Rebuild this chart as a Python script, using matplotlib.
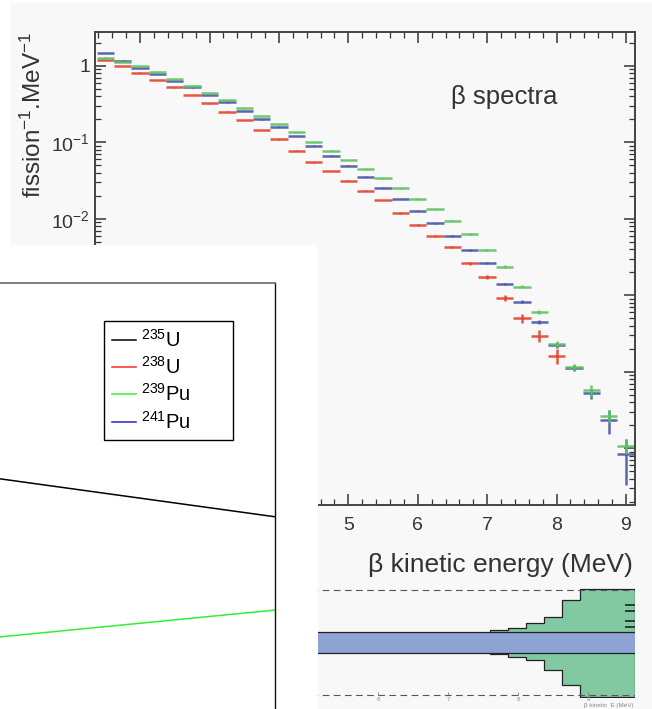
import matplotlib
import matplotlib.pyplot as plt
import numpy as np
from matplotlib.lines import Line2D
from matplotlib.patches import Rectangle
from matplotlib.ticker import FuncFormatter, LogLocator, MultipleLocator, NullFormatter

matplotlib.use("Agg")

plt.rcParams["font.family"] = ["Liberation Sans", "DejaVu Sans"]
plt.rcParams["mathtext.fontset"] = "custom"
plt.rcParams["mathtext.rm"] = "Liberation Sans"
plt.rcParams["mathtext.it"] = "Liberation Sans:italic"

# beta spectra, 250 keV bins (per fission per MeV)
energy = [1.5, 1.75, 2.0, 2.25, 2.5, 2.75, 3.0, 3.25, 3.5, 3.75, 4.0, 4.25, 4.5, 4.75, 5.0, 5.25,
          5.5, 5.75, 6.0, 6.25, 6.5, 6.75, 7.0, 7.25, 7.5, 7.75, 8.0, 8.25, 8.5, 8.75, 9.0]
red_vals = [1.20, 1.00, 0.817, 0.656, 0.527, 0.418, 0.325, 0.253, 0.197, 0.146, 0.110, 0.0781,
            0.0550, 0.0424, 0.0317, 0.0234, 0.0176, 0.0119, 0.00835, 0.00600, 0.00431, 0.00264,
            0.00173, 0.000919, 0.000504, 0.000296, 0.000163]
blue_vals = [1.47, 1.17, 0.94, 0.786, 0.637, 0.524, 0.418, 0.333, 0.258, 0.200, 0.161, 0.122,
             0.0908, 0.0672, 0.0497, 0.0357, 0.0257, 0.0182, 0.0128, 0.00879, 0.00600, 0.00394,
             0.00264, 0.00141, 0.000830, 0.000446, 0.000222, 0.000113, 5.27e-5, 2.36e-5, 8.4e-6]
green_vals = [1.29, 1.13, 1.00, 0.842, 0.676, 0.553, 0.448, 0.360, 0.280, 0.222, 0.175, 0.136,
              0.102, 0.0781, 0.0590, 0.0446, 0.0340, 0.0252, 0.0182, 0.0134, 0.00950, 0.00631,
              0.00394, 0.00238, 0.00130, 0.000614, 0.000232, 0.000116, 5.73e-5, 2.66e-5, 1.08e-5]
red_err = [0.01, 0.01, 0.01, 0.01, 0.01, 0.01, 0.01, 0.01, 0.01, 0.01, 0.01, 0.01, 0.01, 0.01,
           0.01, 0.01, 0.01, 0.02, 0.02, 0.02, 0.03, 0.04, 0.06, 0.09, 0.14, 0.18, 0.22]
blue_err = [0.01, 0.01, 0.01, 0.01, 0.01, 0.01, 0.01, 0.01, 0.01, 0.01, 0.01, 0.01, 0.01, 0.01,
            0.01, 0.01, 0.01, 0.01, 0.02, 0.02, 0.02, 0.03, 0.03, 0.04, 0.05, 0.06, 0.08, 0.10,
            0.15, 0.35, 0.60]
green_err = [0.01, 0.01, 0.01, 0.01, 0.01, 0.01, 0.01, 0.01, 0.01, 0.01, 0.01, 0.01, 0.01, 0.01,
             0.01, 0.01, 0.01, 0.01, 0.02, 0.02, 0.02, 0.03, 0.03, 0.04, 0.05, 0.06, 0.08, 0.10,
             0.18, 0.20, 0.22]

# overlaid panel: isotope lines
iso_labels = ["$^{235}$U", "$^{238}$U", "$^{239}$Pu", "$^{241}$Pu"]
iso_colors = ["black", "#ff2a2a", "#33ee33", "#2222cc"]
line_x = [1.5, 8.0]
u235_y = [0.586, 0.494]
pu239_y = [0.227, 0.292]

# uncertainty inset (percent)
band_half = 2.0
env_edges = [7.6, 7.86, 8.12, 8.37, 8.63, 8.89, 9.67]
env_upper = [2.4, 2.7, 3.6, 4.9, 8.0, 10.1]
env_lower = [2.1, 2.8, 3.3, 5.2, 8.0, 10.3]
mark_y = [7.1, 6.0, 4.1, 3.0]
inset_ticks = [6, 7, 8, 9]

W, H = 652, 709


def fig_rect(x0, y0, x1, y1):
    # pixel box (top-left origin) -> figure fraction
    return [x0 / W, 1 - y1 / H, (x1 - x0) / W, (y1 - y0) / H]


def log_label(value, pos):
    exp = int(round(np.log10(value)))
    if exp == 0:
        return "1"
    return r"$10^{%d}$" % exp


fig = plt.figure(figsize=(W / 100, H / 100), dpi=100)
fig.patch.set_facecolor("white")
fig.add_artist(Rectangle((11 / W, 0), 1, 1 - 3 / H, transform=fig.transFigure,
                         facecolor="#f8f8f8", edgecolor="none", zorder=-10))

# main beta spectra plot
ax = fig.add_axes(fig_rect(95, 32, 635, 505))
ax.set_facecolor("none")
series = [(red_vals, red_err, "#e2452f"), (blue_vals, blue_err, "#4a55a8"), (green_vals, green_err, "#5fc262")]
for vals, errs, color in series:
    y = np.array(vals)
    ax.errorbar(energy[:len(y)], y, xerr=0.125, yerr=y * np.array(errs), fmt="none",
                ecolor=color, elinewidth=1.8, capsize=0, alpha=0.9)
ax.set_yscale("log")
ax.set_xlim(1.35, 9.13)
ax.set_ylim(10 ** -5.74, 10 ** 0.444)
ax.xaxis.set_major_locator(MultipleLocator(1))
ax.xaxis.set_minor_locator(MultipleLocator(0.2))
ax.yaxis.set_major_locator(LogLocator(base=10, numticks=20))
ax.yaxis.set_minor_locator(LogLocator(base=10, subs=np.arange(2, 10), numticks=20))
ax.yaxis.set_major_formatter(FuncFormatter(log_label))
ax.yaxis.set_minor_formatter(NullFormatter())
ax.tick_params(which="both", direction="in", top=True, right=True, colors="#333333", labelsize=14)
ax.tick_params(which="major", length=8, width=1.1)
ax.tick_params(which="minor", length=4, width=0.9)
ax.tick_params(axis="x", pad=9)
for spine in ax.spines.values():
    spine.set_color("#444444")
    spine.set_linewidth(1.4)
ax.text(0.757, 0.862, "β spectra", transform=ax.transAxes, ha="center", va="center",
        fontsize=18.5, color="#333333")
fig.text(33 / W, 1 - 32 / H, "fission$^{-1}$.MeV$^{-1}$", rotation=90, ha="center", va="top",
         fontsize=17.5, color="#333333")
fig.text(633 / W, 1 - 565 / H, "β kinetic energy (MeV)", ha="right", va="center",
         fontsize=19, color="#333333")

# small uncertainty inset at the bottom right
axr = fig.add_axes(fig_rect(300, 587, 635, 698))
axr.set_xlim(4.886, 9.671)
axr.set_ylim(-10.5, 10.5)
axr.axis("off")
axr.fill_between([4.886, 9.671], -band_half, band_half, color="#8da3d4", lw=0)
axr.stairs(env_upper, env_edges, baseline=band_half, fill=True, facecolor="#82c9a2",
           edgecolor="#222222", linewidth=0.9)
axr.stairs([-v for v in env_lower], env_edges, baseline=-band_half, fill=True, facecolor="#82c9a2",
           edgecolor="#222222", linewidth=0.9)
axr.hlines([-band_half, band_half], 4.886, 9.671, color="#222222", lw=0.9)
axr.hlines([-10, 10], 4.886, 9.671, color="#555555", lw=0.8, linestyles=(0, (6, 4)))
axr.hlines(mark_y, 9.53, 9.671, color="#222222", lw=1.2)
for t in inset_ticks:
    axr.vlines(t, -10, -9.3, color="#777777", lw=0.6)
    axr.text(t, -10.4, str(t), ha="center", va="top", fontsize=4.5, color="#888888")
fig.text(633 / W, 1 - 705 / H, "β kinetic  E (MeV)", ha="right", va="center", fontsize=4.5,
         color="#888888")

# white panel laid over the lower left part
axw = fig.add_axes(fig_rect(0, 245, 318, 709), zorder=5)
axw.set_facecolor("white")
axw.set_xticks([])
axw.set_yticks([])
for spine in axw.spines.values():
    spine.set_visible(False)

axi = fig.add_axes(fig_rect(-33, 283, 275, 745), zorder=6)
axi.set_facecolor("none")
axi.set_xlim(line_x)
axi.set_ylim(0, 1)
axi.set_xticks([])
axi.set_yticks([])
axi.spines["top"].set_color("#666666")
axi.spines["right"].set_color("#111111")
axi.spines["top"].set_linewidth(1.2)
axi.spines["right"].set_linewidth(1.0)
axi.plot(line_x, u235_y, color=iso_colors[0], lw=1.1)
axi.plot(line_x, pu239_y, color=iso_colors[2], lw=1.1)
handles = [Line2D([], [], color=c, lw=1.1) for c in iso_colors]
axi.legend(handles, iso_labels, loc="upper left", mode="expand",
           bbox_to_anchor=(104 / W, 1 - 437 / H, 129 / W, 116 / H),
           bbox_transform=fig.transFigure, fontsize=14.5, frameon=True, fancybox=False,
           edgecolor="black", framealpha=1, handlelength=1.2, handletextpad=0.25,
           labelspacing=0.27, borderpad=0.38, borderaxespad=0)

fig.savefig("out.png", dpi=100)
